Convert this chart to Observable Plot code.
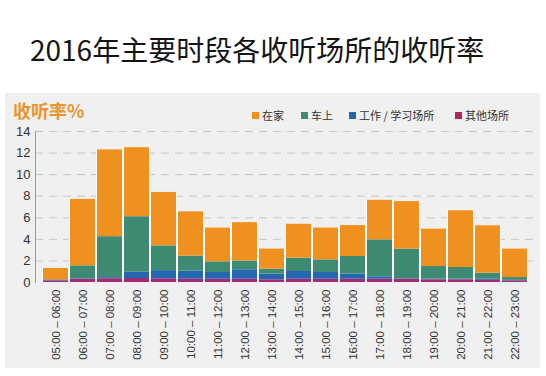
<!DOCTYPE html>
<html><head><meta charset="utf-8">
<script src="https://cdn.jsdelivr.net/npm/d3@7"></script>
<script src="https://cdn.jsdelivr.net/npm/@observablehq/plot@0.6"></script>
<style>
html,body{margin:0;padding:0;background:#fff;width:546px;height:376px;overflow:hidden;position:relative;}
#title{position:absolute;left:30px;top:35px;font:400 28px/28px "Noto Sans CJK SC",sans-serif;color:#141414;white-space:nowrap;letter-spacing:0px;}
#panel{position:absolute;left:5px;top:93px;width:535px;height:275px;background:#f0f0f0;}
#ylab{position:absolute;left:8px;top:8px;font:700 18px/18px "Noto Sans CJK SC",sans-serif;color:#e9952b;}
.lg{position:absolute;top:16px;font:400 11px/12px "Noto Sans CJK SC",sans-serif;color:#333;white-space:nowrap;}
.lg i{display:inline-block;width:7px;height:7px;margin-right:3px;vertical-align:1px;}
#chart{position:absolute;left:0;top:0;}
</style></head>
<body>
<div id="title">2016年主要时段各收听场所的收听率</div>
<div id="panel">
  <div id="ylab">收听率%</div>
  <div id="legend"></div>
  <div id="chart"></div>
</div>
<script>
const slots = ["05:00 – 06:00","06:00 – 07:00","07:00 – 08:00","08:00 – 09:00","09:00 – 10:00","10:00 – 11:00","11:00 – 12:00","12:00 – 13:00","13:00 – 14:00","14:00 – 15:00","15:00 – 16:00","16:00 – 17:00","17:00 – 18:00","18:00 – 19:00","19:00 – 20:00","20:00 – 21:00","21:00 – 22:00","22:00 – 23:00"];
const series = ["在家","车上","工作 / 学习场所","其他场所"];
const colors = ["#f0901f","#3f8a72","#2566b0","#a62a72"];
const home  = [1.05,6.15,8.05,6.40,4.95,4.10,3.13,3.55,1.86,3.14,2.95,2.87,3.66,4.40,3.47,5.26,4.39,2.64];
const car   = [0.05,1.20,3.80,5.15,2.30,1.40,0.99,0.82,0.46,1.24,1.17,1.63,3.43,2.75,1.18,1.09,0.57,0.26];
const work  = [0.05,0.05,0.10,0.58,0.75,0.75,0.63,0.88,0.53,0.72,0.63,0.48,0.23,0.05,0.05,0.05,0.10,0.05];
const other = [0.15,0.30,0.35,0.37,0.35,0.30,0.30,0.30,0.25,0.30,0.30,0.30,0.30,0.30,0.25,0.25,0.20,0.15];
const yTicks = [0,2,4,6,8,10,12,14];

const rows = [];
slots.forEach((s,i)=>{
  rows.push({slot:s, kind:series[3], v:other[i]});
  rows.push({slot:s, kind:series[2], v:work[i]});
  rows.push({slot:s, kind:series[1], v:car[i]});
  rows.push({slot:s, kind:series[0], v:home[i]});
});
const totals = slots.map((s,i)=>({slot:s, v:home[i]+car[i]+work[i]+other[i]}));

// legend
const lgPos = [247,296,344,450];
document.getElementById("legend").innerHTML = series.map((s,i)=>
  `<div class="lg" style="left:${lgPos[i]}px"><i style="background:${i===3?"#b0275e":colors[i]}"></i>${s}</div>`).join("");

const chart = Plot.plot({
  width:535, height:275,
  marginLeft:30, marginRight:5, marginTop:38, marginBottom:86,
  style:{background:"transparent", fontFamily:"'Liberation Sans',Arial,sans-serif", fontSize:"11.5px", color:"#333"},
  x:{domain:slots, padding:0.07, label:null},
  y:{domain:[0,14], label:null},
  color:{domain:series, range:colors},
  marks:[
    Plot.ruleY(yTicks.filter(d=>d>0), {stroke:"#c8c8c8", strokeDasharray:"8,6", strokeWidth:1}),
    Plot.frame({anchor:"left", stroke:"#999"}),
    Plot.barY(totals, {x:"slot", y:"v", fill:"white", insetLeft:-1, insetRight:-1}),
    Plot.barY(rows, {x:"slot", y:"v", fill:"kind", order:null}),
    Plot.axisY({ticks:yTicks, tickSize:0, tickPadding:5, fontSize:13, fill:"#333"}),
    Plot.axisX({tickRotate:-90, tickSize:0, tickPadding:7, fontSize:11.5, fill:"#333"})
  ]
});
document.getElementById("chart").appendChild(chart);
</script>
</body></html>
